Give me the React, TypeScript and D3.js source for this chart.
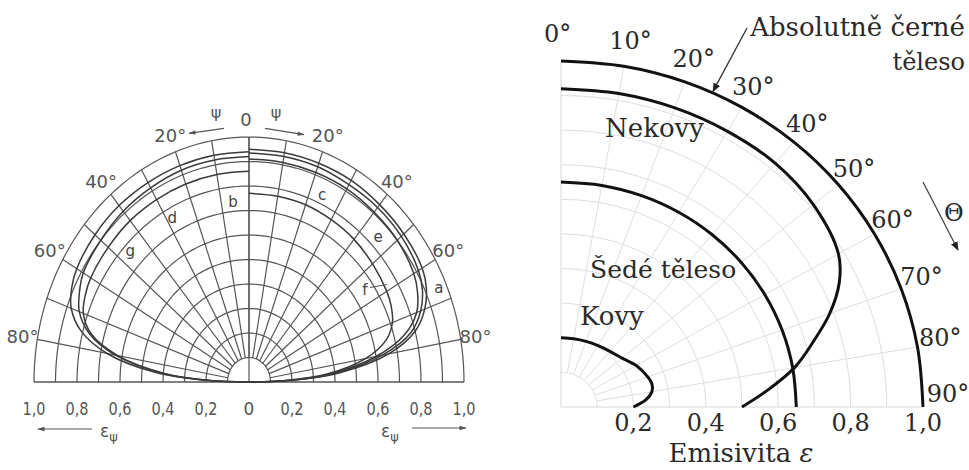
import React from 'react';
import * as d3 from 'd3';

// ---------- Right chart data (directional emissivity) ----------
const bbAngles = [0, 10, 20, 30, 40, 50, 60, 70, 80, 90];
const blackBody = [1, 1, 1, 1, 1, 1, 1, 1, 1, 1];
const grayBody = [0.65, 0.65, 0.65, 0.65, 0.65, 0.65, 0.65, 0.65, 0.65, 0.65];
const nonMetalAngles = [0, 10, 20, 30, 40, 50, 60, 65, 70, 75, 80, 85, 90];
const nonMetals = [0.92, 0.92, 0.92, 0.92, 0.92, 0.91, 0.885, 0.848, 0.79, 0.72, 0.655, 0.575, 0.5];
const metalAngles = [0, 10, 20, 30, 40, 50, 60, 70, 75, 80, 85, 90];
const metals = [0.2, 0.2, 0.202, 0.205, 0.21, 0.22, 0.24, 0.255, 0.26, 0.255, 0.235, 0.2];
const rightTicks = [0.2, 0.4, 0.6, 0.8, 1.0];
const rightTickLabels = ['0,2', '0,4', '0,6', '0,8', '1,0'];
const rightAngleLabels = [0, 10, 20, 30, 40, 50, 60, 70, 80, 90];

// ---------- Left chart data (nonconductors, curves a–g) ----------
const leftAngles = [0, 10, 20, 30, 40, 50, 60, 65, 70, 75, 80, 85, 88, 90];
// right half
const curveA = [0.95, 0.95, 0.95, 0.95, 0.945, 0.94, 0.93, 0.91, 0.87, 0.8, 0.66, 0.42, 0.2, 0];
const curveC = [0.935, 0.935, 0.935, 0.93, 0.93, 0.925, 0.91, 0.89, 0.85, 0.78, 0.63, 0.4, 0.19, 0];
const curveE = [0.91, 0.91, 0.91, 0.91, 0.905, 0.9, 0.885, 0.865, 0.83, 0.75, 0.6, 0.38, 0.18, 0];
const curveF = [0.77, 0.77, 0.77, 0.765, 0.76, 0.75, 0.74, 0.73, 0.71, 0.66, 0.55, 0.36, 0.17, 0];
// left half
const curveD = [0.94, 0.94, 0.94, 0.94, 0.94, 0.935, 0.925, 0.91, 0.88, 0.81, 0.67, 0.43, 0.2, 0];
const curveB = [0.92, 0.92, 0.92, 0.915, 0.91, 0.9, 0.89, 0.87, 0.84, 0.77, 0.63, 0.4, 0.19, 0];
const curveG = [0.86, 0.86, 0.86, 0.86, 0.86, 0.855, 0.85, 0.84, 0.82, 0.76, 0.62, 0.39, 0.18, 0];
const leftTicks = [-1, -0.8, -0.6, -0.4, -0.2, 0, 0.2, 0.4, 0.6, 0.8, 1];
const leftTickLabels = ['1,0', '0,8', '0,6', '0,4', '0,2', '0', '0,2', '0,4', '0,6', '0,8', '1,0'];
const leftAngleLabels = [20, 40, 60, 80];

const rad = (d: number) => (d * Math.PI) / 180;

export default function App() {
  // right chart scales
  const rx = d3.scaleLinear().domain([0, 1]).range([561, 923]);
  const ry = d3.scaleLinear().domain([0, 1]).range([407, 61]);
  const rPt = (deg: number, e: number): [number, number] => [rx(e * Math.sin(rad(deg))), ry(e * Math.cos(rad(deg)))];
  const smooth = d3.line().curve(d3.curveCatmullRom.alpha(0.5));
  const rPath = (angles: number[], vals: number[]) => smooth(angles.map((a, i) => rPt(a, vals[i])))!;

  // left chart scales
  const lx = d3.scaleLinear().domain([-1, 1]).range([34, 464]);
  const ly = d3.scaleLinear().domain([0, 1]).range([382, 137]);
  const lPt = (deg: number, e: number, side: number): [number, number] => [lx(side * e * Math.sin(rad(deg))), ly(e * Math.cos(rad(deg)))];
  const lPath = (vals: number[], side: number) => smooth(leftAngles.map((a, i) => lPt(a, vals[i], side)))!;
  const lineP = d3.line();

  const rGridRadii = d3.range(1, 11).map((i) => i / 10);
  const arcDegs = d3.range(0, 91, 2);
  const rSpokes = d3.range(10, 90, 10);

  const lGridRadii = d3.range(1, 11).map((i) => i / 10);
  const lArcDegs = d3.range(-90, 91, 2);
  const lSpokes = d3.range(-80, 81, 10);

  const serifStyle = { fontFamily: "'DejaVu Serif', 'Liberation Serif', serif" };
  const sansStyle = { fontFamily: "'DejaVu Sans', Roboto, sans-serif" };
  const lgCol = '#555';

  return (
    <svg width={969} height={470} style={{ position: 'absolute', left: 0, top: 0, background: '#fff' }}>
      <defs>
        <marker id="ah" viewBox="0 0 10 10" refX="9" refY="5" markerWidth="7" markerHeight="7" orient="auto-start-reverse">
          <path d="M0,1 L10,5 L0,9 z" fill="#222" />
        </marker>
        <marker id="ahg" viewBox="0 0 10 10" refX="9" refY="5" markerWidth="8" markerHeight="6" orient="auto-start-reverse">
          <path d="M0,2 L10,5 L0,8 z" fill="#555" />
        </marker>
      </defs>

      {/* ================= LEFT CHART ================= */}
      <g>
        {lGridRadii.map((r) => (
          <path key={'la' + r} d={lineP(lArcDegs.map((a) => lPt(Math.abs(a), r, a < 0 ? -1 : 1)))!} fill="none" stroke={lgCol} strokeWidth={1.2} />
        ))}
        {lSpokes.map((a) => (
          <path key={'ls' + a} d={lineP([lPt(Math.abs(a), 0.1, a < 0 ? -1 : 1), lPt(Math.abs(a), 1, a < 0 ? -1 : 1)])!} stroke={lgCol} strokeWidth={1.2} />
        ))}
        <line x1={lx(-1)} x2={lx(1)} y1={ly(0)} y2={ly(0)} stroke={lgCol} strokeWidth={1.5} />
        <line x1={lx(0)} x2={lx(0)} y1={ly(0)} y2={ly(1)} stroke={lgCol} strokeWidth={1.2} />

        {/* curves */}
        {[curveA, curveC, curveE, curveF].map((c, i) => (
          <path key={'rc' + i} d={lPath(c, 1)} fill="none" stroke="#3a3a3a" strokeWidth={1.5} />
        ))}
        {[curveD, curveB, curveG].map((c, i) => (
          <path key={'lc' + i} d={lPath(c, -1)} fill="none" stroke="#3a3a3a" strokeWidth={1.5} />
        ))}

        {/* curve letters */}
        <g style={sansStyle} fontSize={15} fill="#444" textAnchor="middle" dominantBaseline="central">
          <text x={lPt(66.5, 0.963, 1)[0]} y={lPt(66.5, 0.963, 1)[1]}>a</text>
          <text x={lPt(5.8, 0.739, -1)[0]} y={lPt(5.8, 0.739, -1)[1]}>b</text>
          <text x={lPt(24, 0.835, 1)[0]} y={lPt(24, 0.835, 1)[1]}>c</text>
          <text x={lPt(28, 0.759, -1)[0]} y={lPt(28, 0.759, -1)[1]}>d</text>
          <text x={lPt(45.4, 0.843, 1)[0]} y={lPt(45.4, 0.843, 1)[1]}>e</text>
          <text x={lPt(55, 0.658, 1)[0]} y={lPt(55, 0.658, 1)[1]}>f</text>
          <text x={lPt(46, 0.767, -1)[0]} y={lPt(46, 0.767, -1)[1]}>g</text>
        </g>
        <line x1={lPt(55, 0.658, 1)[0] + 5} y1={lPt(55, 0.658, 1)[1] - 2} x2={lPt(55, 0.658, 1)[0] + 22} y2={lPt(55, 0.658, 1)[1] - 5} stroke="#555" strokeWidth={1} />

        {/* angle labels */}
        <g style={sansStyle} fontSize={18} fill="#555" textAnchor="middle" dominantBaseline="central">
          {leftAngleLabels.map((a) => (
            <React.Fragment key={'lal' + a}>
              <text x={lPt(a, 1.07, -1)[0]} y={lPt(a, 1.07, -1)[1]}>{a}°</text>
              <text x={lPt(a, 1.07, 1)[0]} y={lPt(a, 1.07, 1)[1]}>{a}°</text>
            </React.Fragment>
          ))}
          <text x={lx(0) - 3} y={ly(1.07)}>0</text>
          <text x={lx(0) - 33} y={ly(1.1)} fontSize={16}>ψ</text>
          <text x={lx(0) + 27} y={ly(1.1)} fontSize={16}>ψ</text>
        </g>
        <line x1={lx(0) - 25} y1={ly(1.035)} x2={lx(0) - 60} y2={ly(1.015)} stroke="#555" strokeWidth={1.2} markerEnd="url(#ahg)" />
        <line x1={lx(0) + 16} y1={ly(1.035)} x2={lx(0) + 55} y2={ly(1.01)} stroke="#555" strokeWidth={1.2} markerEnd="url(#ahg)" />

        {/* baseline tick labels */}
        <g style={sansStyle} fontSize={17} fill="#555" textAnchor="middle">
          {leftTicks.map((t, i) => (
            <text key={'lt' + i} x={lx(t)} y={415} textLength={t === 0 ? undefined : 23} lengthAdjust="spacingAndGlyphs">{leftTickLabels[i]}</text>
          ))}
        </g>
        <g style={sansStyle} fontSize={17} fill="#555">
          <text x={100} y={437}>ε<tspan fontSize={13} dy={4}>ψ</tspan></text>
          <text x={381} y={437}>ε<tspan fontSize={13} dy={4}>ψ</tspan></text>
        </g>
        <line x1={92} y1={429} x2={38} y2={429} stroke="#555" strokeWidth={1.2} markerEnd="url(#ahg)" />
        <line x1={412} y1={428} x2={466} y2={428} stroke="#555" strokeWidth={1.2} markerEnd="url(#ahg)" />
      </g>

      {/* ================= RIGHT CHART ================= */}
      <g>
        {rGridRadii.map((r) => (
          <path key={'ra' + r} d={lineP(arcDegs.map((a) => rPt(a, r)))!} fill="none" stroke="#dedede" strokeWidth={1} />
        ))}
        {rSpokes.map((a) => (
          <path key={'rs' + a} d={lineP([rPt(a, 0.1), rPt(a, 1)])!} stroke="#dedede" strokeWidth={1} />
        ))}
        <line x1={rx(0)} x2={rx(1)} y1={ry(0)} y2={ry(0)} stroke="#d6d6d6" strokeWidth={1} />
        <line x1={rx(0)} x2={rx(0)} y1={ry(0)} y2={ry(1)} stroke="#d6d6d6" strokeWidth={1} />

        <path d={rPath(bbAngles, blackBody)} fill="none" stroke="#111" strokeWidth={3} />
        <path d={rPath(nonMetalAngles, nonMetals)} fill="none" stroke="#111" strokeWidth={3} />
        <path d={rPath(bbAngles, grayBody)} fill="none" stroke="#111" strokeWidth={3} />
        <path d={rPath(metalAngles, metals)} fill="none" stroke="#111" strokeWidth={3} />

        <g style={serifStyle} fontSize={24} fill="#2a2a2a">
          {rightAngleLabels.map((a) => {
            const [px, py] = rPt(a, 1);
            return (
              <text key={'ral' + a} x={px - 17 + 0.23 * a} y={py - 19 + 0.22 * a - (a === 90 ? 6 : 0)}>{a}°</text>
            );
          })}
          {rightTicks.map((t, i) => (
            <text key={'rt' + i} x={rx(t)} y={431} textAnchor="middle">{rightTickLabels[i]}</text>
          ))}
          <text x={741} y={462} textAnchor="middle" fontSize={26}>Emisivita <tspan fontStyle="italic">ε</tspan></text>
          <text x={965} y={36} textAnchor="end" fontSize={26}>Absolutně černé</text>
          <text x={965} y={70} textAnchor="end">těleso</text>
          <text x={605} y={137} fontSize={26}>Nekovy</text>
          <text x={590} y={278} fontSize={25}>Šedé těleso</text>
          <text x={580} y={325} fontSize={26}>Kovy</text>
          <text x={944} y={221}>Θ</text>
        </g>
        <line x1={747} y1={28} x2={rPt(25, 1)[0] - 1} y2={rPt(25, 1)[1] - 2} stroke="#333" strokeWidth={1.3} markerEnd="url(#ah)" />
        <line x1={923} y1={182} x2={958} y2={250} stroke="#444" strokeWidth={1.3} markerEnd="url(#ah)" />
      </g>
    </svg>
  );
}
